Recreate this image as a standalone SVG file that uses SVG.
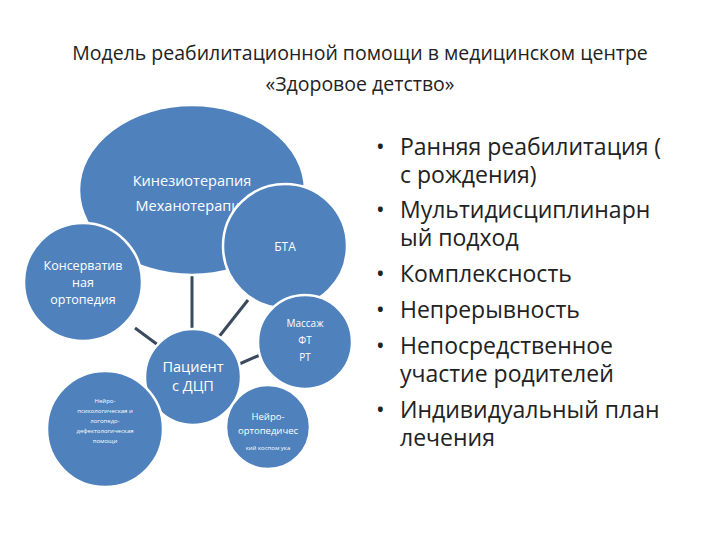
<svg xmlns="http://www.w3.org/2000/svg" width="720" height="540" viewBox="0 0 720 540">
<style>
.n{fill:#4f81bd;stroke:#fff;stroke-width:2.5}
.t{fill:#fff;font-family:"Open Sans","Liberation Sans",sans-serif;text-anchor:middle}
.b{font-family:"Open Sans","Liberation Sans",sans-serif;font-size:23px;fill:#222}
</style>
<rect width="720" height="540" fill="#fff"/>
<g font-family="Open Sans, Liberation Sans, sans-serif" font-size="19.5" fill="#222" text-anchor="middle">
<text x="360" y="60">Модель реабилитационной помощи в медицинском центре</text>
<text x="360" y="91">«Здоровое детство»</text>
</g>
<g id="connectors" stroke="#3a4a5c" stroke-width="3">
<line x1="192" y1="275" x2="192" y2="332"/>
<line x1="218" y1="338" x2="248" y2="300"/>
<line x1="135" y1="328" x2="158" y2="345"/>
<line x1="237" y1="365" x2="260" y2="355"/>
</g>
<g id="kinezio"><ellipse class="n" cx="192" cy="190" rx="113" ry="85"/>
<text class="t" font-size="14.5" x="192" y="186">Кинезиотерапия</text>
<text class="t" font-size="14.5" x="192" y="211">Механотерапия</text></g>
<g id="bta"><circle class="n" cx="285" cy="246" r="62"/>
<text class="t" font-size="12" x="285" y="251">БТА</text></g>
<g id="konserv"><circle class="n" cx="83" cy="282" r="59"/>
<text class="t" font-size="12.5" x="83" y="270">Консерватив</text>
<text class="t" font-size="12.5" x="83" y="287">ная</text>
<text class="t" font-size="12.5" x="83" y="304">ортопедия</text></g>
<g id="patient"><circle class="n" cx="193" cy="377" r="48"/>
<text class="t" font-size="14.5" x="193" y="372">Пациент</text>
<text class="t" font-size="14.5" x="193" y="391">с ДЦП</text></g>
<g id="massage"><circle class="n" cx="305" cy="342" r="47"/>
<text class="t" font-size="10" x="305" y="327">Массаж</text>
<text class="t" font-size="10" x="305" y="344">ФТ</text>
<text class="t" font-size="10" x="305" y="361">РТ</text></g>
<g id="neuroortho"><circle class="n" cx="268" cy="427" r="42"/>
<text class="t" font-size="9.5" x="268" y="420">Нейро-</text>
<text class="t" font-size="9.5" x="268" y="434">ортопедичес</text>
<text class="t" font-size="6" x="268" y="450">кий коспом ука</text></g>
<g id="neuropsych"><circle class="n" cx="105" cy="429" r="58"/>
<text class="t" font-size="6" x="105" y="403">Нейро-</text>
<text class="t" font-size="6" x="105" y="413">психологическая и</text>
<text class="t" font-size="6" x="105" y="423">логопедо-</text>
<text class="t" font-size="6" x="105" y="433">дефектологическая</text>
<text class="t" font-size="6" x="105" y="443">помощи</text></g>
<g id="bullets" class="b">
<text x="376" y="155">•</text><text x="400" y="155">Ранняя реабилитация (</text>
<text x="400" y="183">с рождения)</text>
<text x="376" y="218">•</text><text x="400" y="218">Мультидисциплинарн</text>
<text x="400" y="246">ый подход</text>
<text x="376" y="282">•</text><text x="400" y="282">Комплексность</text>
<text x="376" y="318">•</text><text x="400" y="318">Непрерывность</text>
<text x="376" y="354">•</text><text x="400" y="354">Непосредственное</text>
<text x="400" y="382">участие родителей</text>
<text x="376" y="418">•</text><text x="400" y="418">Индивидуальный план</text>
<text x="400" y="446">лечения</text>
</g>
</svg>
